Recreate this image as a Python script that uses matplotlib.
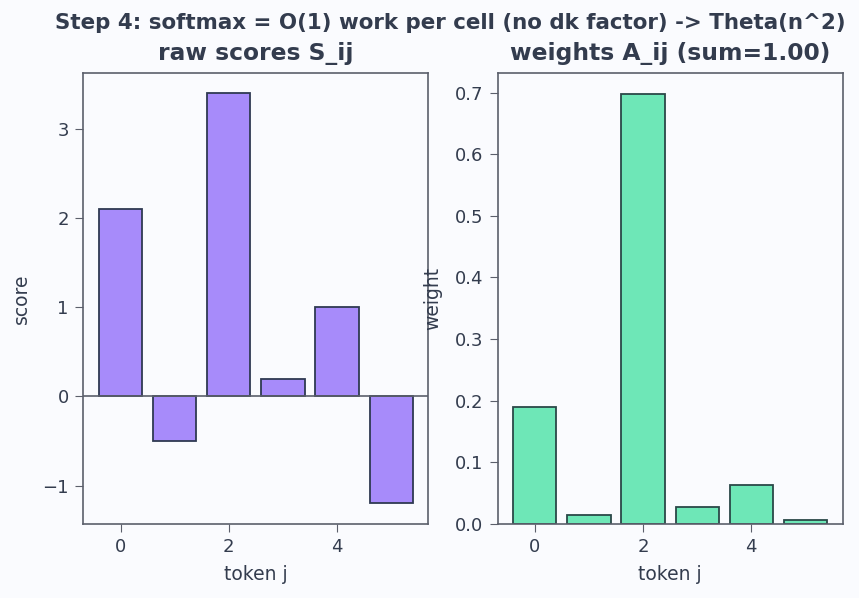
import matplotlib
matplotlib.use("Agg")
import matplotlib.pyplot as plt

tokens = [0, 1, 2, 3, 4, 5]
scores = [2.1, -0.5, 3.4, 0.2, 1.0, -1.2]
weights = [0.190, 0.014, 0.697, 0.028, 0.063, 0.007]

bg = "#fafbfe"
ink = "#333c4e"
spine = "#5b5f6b"

plt.rcParams["font.family"] = "DejaVu Sans"
plt.rcParams["text.color"] = ink
plt.rcParams["axes.labelcolor"] = ink
plt.rcParams["xtick.color"] = spine
plt.rcParams["ytick.color"] = spine
plt.rcParams["xtick.labelcolor"] = ink
plt.rcParams["ytick.labelcolor"] = ink

fig, (ax1, ax2) = plt.subplots(1, 2, figsize=(8.59, 5.98), dpi=100)
fig.patch.set_facecolor(bg)
fig.subplots_adjust(left=0.097, right=0.981, top=0.878, bottom=0.124, wspace=0.2)

# raw scores
ax1.bar(tokens, scores, color="#a78bfa", edgecolor="#2f3a52", linewidth=1.3)
ax1.axhline(0, color=spine, linewidth=1.2)
ax1.set_title("raw scores S_ij", fontsize=16.8, fontweight="bold", color=ink, pad=9)
ax1.set_xlabel("token j", fontsize=13.5, labelpad=6)
ax1.set_ylabel("score", fontsize=13.5, labelpad=8)

# softmax weights
ax2.bar(tokens, weights, color="#6ee7b7", edgecolor="#2a4848", linewidth=1.3)
ax2.set_title("weights A_ij (sum=%.2f)" % 1.00, fontsize=16.8, fontweight="bold", color=ink, pad=9)
ax2.set_xlabel("token j", fontsize=13.5, labelpad=6)
ax2.set_ylabel("weight", fontsize=13.5, labelpad=9)

for ax in (ax1, ax2):
    ax.set_facecolor(bg)
    ax.tick_params(labelsize=13, length=5.5, pad=5)
    for s in ax.spines.values():
        s.set_color(spine)
        s.set_linewidth(1.2)

fig.suptitle("Step 4: softmax = O(1) work per cell (no dk factor) -> Theta(n^2)",
             fontsize=15.4, fontweight="bold", color=ink, x=0.524, y=0.978)

fig.savefig("out.png", facecolor=bg)
